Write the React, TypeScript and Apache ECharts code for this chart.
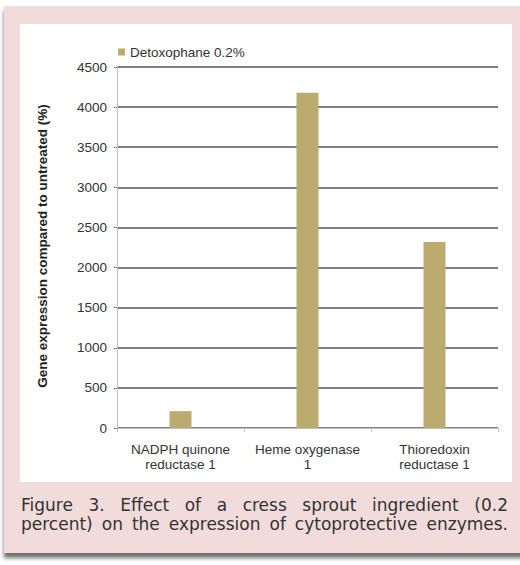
import React, { useEffect, useRef } from "react";
import * as echarts from "echarts";

const categories = ["NADPH quinone\nreductase 1", "Heme oxygenase\n1", "Thioredoxin\nreductase 1"];
const seriesName = "Detoxophane 0.2%";
const values = [210, 4180, 2320];
const yAxisTitle = "Gene expression compared to untreated (%)";
const captionLine1 = "Figure 3. Effect of a cress sprout ingredient (0.2";
const captionLine2 = "percent) on the expression of cytoprotective enzymes.";

const FONT = "'Liberation Sans', Arial, sans-serif";

export default function App() {
  const ref = useRef<HTMLDivElement>(null);
  useEffect(() => {
    if (!ref.current) return;
    const chart = echarts.init(ref.current, null, { renderer: "svg" });
    chart.setOption({
      animation: false,
      backgroundColor: "transparent",
      textStyle: { fontFamily: FONT },
      legend: {
        left: 118,
        top: 45,
        padding: 0,
        itemWidth: 7,
        itemHeight: 7,
        icon: "rect",
        textStyle: { fontSize: 13.5, color: "#333", fontFamily: FONT },
        data: [seriesName],
      },
      grid: { left: 117, right: 22, top: 67, bottom: 137 },
      xAxis: {
        type: "category",
        data: categories,
        axisLine: { lineStyle: { color: "#BFBFBF", width: 1 } },
        axisTick: { show: true, length: 4, lineStyle: { color: "#BFBFBF" } },
        axisLabel: {
          interval: 0,
          hideOverlap: false,
          fontSize: 13.5,
          color: "#333",
          margin: 14,
          lineHeight: 15,
          fontFamily: FONT,
        },
      },
      yAxis: {
        type: "value",
        min: 0,
        max: 4500,
        interval: 500,
        axisLine: { show: true, lineStyle: { color: "#BFBFBF", width: 1 } },
        axisTick: { show: true, length: 3, lineStyle: { color: "#808080" } },
        axisLabel: {
          fontSize: 13.5,
          color: "#333",
          margin: 10,
          fontFamily: FONT,
          formatter: (v: number) => String(v),
        },
        splitLine: { lineStyle: { color: "#7F7F7F", width: 2 } },
      },
      graphic: [
        {
          type: "text",
          x: 42,
          y: 246,
          rotation: Math.PI / 2,
          style: {
            text: yAxisTitle,
            fontSize: 13.5,
            fontWeight: "bold",
            fill: "#222",
            align: "center",
            verticalAlign: "middle",
            fontFamily: FONT,
          },
        },
      ],
      series: [
        {
          name: seriesName,
          type: "bar",
          data: values,
          barWidth: 22,
          itemStyle: { color: "#BBAB6E" },
        },
      ],
    });
    return () => chart.dispose();
  }, []);

  return (
    <div style={{ position: "fixed", left: 0, top: 0, width: 520, height: 565, background: "#fff", overflow: "hidden" }}>
      <div
        style={{
          position: "absolute",
          left: 4,
          top: 6,
          width: 520,
          height: 547,
          background: "#F2DCDB",
          boxShadow: "0px 5px 4px 0px #6f6f6f",
        }}
      />
      <div style={{ position: "absolute", left: 20, top: 24, width: 492, height: 458, background: "#fff" }} />
      <div ref={ref} style={{ position: "absolute", left: 0, top: 0, width: 520, height: 565 }} />
      <div
        style={{
          position: "absolute",
          left: 21,
          top: 496,
          width: 487,
          fontFamily: "'DejaVu Sans', sans-serif",
          fontSize: 17,
          lineHeight: "19px",
          color: "#333",
          textAlign: "justify",
          textAlignLast: "justify",
          whiteSpace: "nowrap",
        }}
      >
        {captionLine1}
        <br />
        {captionLine2}
      </div>
    </div>
  );
}
